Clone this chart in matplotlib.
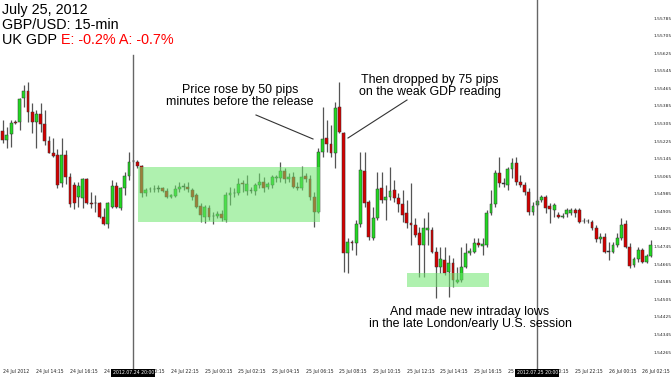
import matplotlib
matplotlib.use("Agg")
import matplotlib.pyplot as plt
from matplotlib.lines import Line2D
from matplotlib.patches import Rectangle
from matplotlib.transforms import blended_transform_factory

# ---------------- data (GBP/USD 15-min, 24 Jul 12:15 -> 26 Jul 02:45) ----------------
opens = [1.55272, 1.55230, 1.55257, 1.55312, 1.55313, 1.55421, 1.55453, 1.55356, 1.55313, 1.55347,
         1.55303, 1.55227, 1.55172, 1.55162, 1.55033, 1.55162, 1.55060, 1.55025, 1.54972, 1.54965,
         1.55051, 1.54945, 1.54943, 1.54942, 1.54881, 1.54848, 1.54926, 1.55022, 1.54919, 1.55010,
         1.55066, 1.55133, 1.55128, 1.55112, 1.54987, 1.55007, 1.55007, 1.55009, 1.55010, 1.54999,
         1.54972, 1.54975, 1.55006, 1.55017, 1.55017, 1.55002, 1.54980, 1.54931, 1.54881, 1.54919,
         1.54884, 1.54884, 1.54893, 1.54866, 1.54980, 1.54987, 1.54987, 1.55036, 1.54999, 1.54999,
         1.54998, 1.55025, 1.55040, 1.55015, 1.55025, 1.55056, 1.55056, 1.55089, 1.55053, 1.55063,
         1.55017, 1.55010, 1.55066, 1.55051, 1.54972, 1.54904, 1.55177, 1.55238, 1.55212, 1.55172,
         1.55382, 1.55263, 1.54717, 1.54767, 1.54760, 1.54848, 1.55090, 1.54949, 1.54783, 1.54874,
         1.55010, 1.54957, 1.54969, 1.55002, 1.54965, 1.54939, 1.54896, 1.54851, 1.54843, 1.54805,
         1.54752, 1.54820, 1.54820, 1.54722, 1.54653, 1.54684, 1.54631, 1.54672, 1.54585, 1.54593,
         1.54653, 1.54714, 1.54722, 1.54763, 1.54748, 1.54752, 1.54899, 1.54937, 1.55078, 1.55030,
         1.55025, 1.55097, 1.55124, 1.55040, 1.55025, 1.54995, 1.54904, 1.54934, 1.54957, 1.54969,
         1.54930, 1.54912, 1.54889, 1.54878, 1.54893, 1.54899, 1.54912, 1.54912, 1.54861, 1.54861,
         1.54858, 1.54828, 1.54778, 1.54790, 1.54722, 1.54722, 1.54752, 1.54783, 1.54848, 1.54744,
         1.54661, 1.54687, 1.54730, 1.54675, 1.54702]
highs = [1.55321, 1.55291, 1.55321, 1.55319, 1.55421, 1.55480, 1.55495, 1.55397, 1.55366, 1.55397,
         1.55366, 1.55248, 1.55238, 1.55188, 1.55238, 1.55184, 1.55078, 1.55040, 1.55040, 1.55056,
         1.55056, 1.54995, 1.54980, 1.54949, 1.54919, 1.54949, 1.55048, 1.55040, 1.55017, 1.55086,
         1.55177, 1.55137, 1.55139, 1.55116, 1.55013, 1.55017, 1.55025, 1.55025, 1.55016, 1.55010,
         1.54984, 1.55025, 1.55040, 1.55033, 1.55040, 1.55010, 1.54987, 1.54942, 1.54934, 1.54934,
         1.54904, 1.54907, 1.54912, 1.54995, 1.55017, 1.55010, 1.55056, 1.55048, 1.55071, 1.55017,
         1.55033, 1.55078, 1.55063, 1.55039, 1.55071, 1.55071, 1.55131, 1.55101, 1.55078, 1.55086,
         1.55040, 1.55112, 1.55078, 1.55071, 1.54995, 1.55192, 1.55382, 1.55321, 1.55298, 1.55404,
         1.55495, 1.55268, 1.54783, 1.54775, 1.54866, 1.55177, 1.55177, 1.54957, 1.54926, 1.55086,
         1.55086, 1.55025, 1.55108, 1.55048, 1.54987, 1.55002, 1.54957, 1.55033, 1.54874, 1.54835,
         1.54874, 1.54904, 1.54835, 1.54744, 1.54744, 1.54744, 1.54707, 1.54692, 1.54653, 1.54744,
         1.54760, 1.54737, 1.54783, 1.54783, 1.54783, 1.54912, 1.55002, 1.55094, 1.55154, 1.55056,
         1.55108, 1.55147, 1.55151, 1.55071, 1.55040, 1.55010, 1.54949, 1.54962, 1.54980, 1.54980,
         1.54942, 1.54942, 1.54904, 1.54898, 1.54919, 1.54919, 1.54919, 1.54919, 1.54874, 1.54871,
         1.54866, 1.54843, 1.54805, 1.54805, 1.54767, 1.54767, 1.54805, 1.54874, 1.54866, 1.54760,
         1.54699, 1.54744, 1.54739, 1.54711, 1.54775]
lows = [1.55216, 1.55192, 1.55200, 1.55303, 1.55276, 1.55382, 1.55313, 1.55260, 1.55192, 1.55268,
        1.55207, 1.55169, 1.55154, 1.55010, 1.55017, 1.55030, 1.54926, 1.54915, 1.54926, 1.54919,
        1.54939, 1.54919, 1.54904, 1.54874, 1.54843, 1.54828, 1.54919, 1.54922, 1.54912, 1.54980,
        1.55048, 1.55130, 1.55101, 1.54972, 1.54977, 1.54995, 1.54995, 1.54995, 1.54993, 1.54965,
        1.54968, 1.54972, 1.54995, 1.55002, 1.54995, 1.54957, 1.54919, 1.54858, 1.54851, 1.54866,
        1.54848, 1.54875, 1.54863, 1.54858, 1.54934, 1.54972, 1.54980, 1.54995, 1.54980, 1.54987,
        1.54980, 1.55010, 1.54995, 1.55007, 1.55010, 1.55040, 1.55040, 1.55033, 1.55040, 1.55010,
        1.55002, 1.55002, 1.55040, 1.54957, 1.54835, 1.54896, 1.55154, 1.55177, 1.55154, 1.55101,
        1.55260, 1.54631, 1.54624, 1.54730, 1.54707, 1.54835, 1.54926, 1.54775, 1.54775, 1.54866,
        1.54942, 1.54866, 1.54957, 1.54949, 1.54904, 1.54857, 1.54830, 1.54752, 1.54790, 1.54608,
        1.54608, 1.54752, 1.54714, 1.54510, 1.54624, 1.54616, 1.54517, 1.54562, 1.54578, 1.54585,
        1.54646, 1.54707, 1.54714, 1.54744, 1.54707, 1.54744, 1.54889, 1.54926, 1.55017, 1.55017,
        1.55002, 1.55056, 1.55025, 1.55017, 1.54980, 1.54889, 1.54889, 1.54930, 1.54949, 1.54896,
        1.54851, 1.54881, 1.54874, 1.54873, 1.54881, 1.54889, 1.54881, 1.54851, 1.54851, 1.54852,
        1.54820, 1.54767, 1.54760, 1.54714, 1.54684, 1.54714, 1.54744, 1.54775, 1.54737, 1.54646,
        1.54653, 1.54676, 1.54670, 1.54670, 1.54698]
closes = [1.55230, 1.55253, 1.55306, 1.55307, 1.55415, 1.55453, 1.55356, 1.55313, 1.55347, 1.55303,
          1.55227, 1.55172, 1.55159, 1.55025, 1.55162, 1.55060, 1.54939, 1.54942, 1.55022, 1.55051,
          1.54942, 1.54939, 1.54941, 1.54881, 1.54848, 1.54942, 1.55022, 1.54926, 1.55010, 1.55066,
          1.55128, 1.55133, 1.55113, 1.54987, 1.55002, 1.55007, 1.55007, 1.55009, 1.54999, 1.54972,
          1.54980, 1.55006, 1.55017, 1.55017, 1.55006, 1.54972, 1.54926, 1.54889, 1.54926, 1.54881,
          1.54884, 1.54893, 1.54874, 1.54980, 1.54987, 1.54987, 1.55030, 1.55028, 1.55030, 1.54999,
          1.55025, 1.55040, 1.55013, 1.55030, 1.55060, 1.55063, 1.55089, 1.55053, 1.55063, 1.55017,
          1.55010, 1.55063, 1.55051, 1.54972, 1.54904, 1.55177, 1.55235, 1.55212, 1.55172, 1.55377,
          1.55268, 1.54717, 1.54767, 1.54760, 1.54848, 1.55094, 1.54942, 1.54790, 1.54874, 1.55006,
          1.54957, 1.54972, 1.54999, 1.54965, 1.54939, 1.54889, 1.54851, 1.54843, 1.54798, 1.54752,
          1.54828, 1.54828, 1.54722, 1.54653, 1.54687, 1.54624, 1.54672, 1.54593, 1.54593, 1.54653,
          1.54717, 1.54725, 1.54763, 1.54752, 1.54757, 1.54899, 1.54937, 1.55078, 1.55033, 1.55030,
          1.55097, 1.55124, 1.55040, 1.55025, 1.54995, 1.54904, 1.54930, 1.54952, 1.54969, 1.54919,
          1.54915, 1.54934, 1.54881, 1.54884, 1.54912, 1.54912, 1.54896, 1.54858, 1.54861, 1.54861,
          1.54828, 1.54778, 1.54790, 1.54722, 1.54722, 1.54752, 1.54783, 1.54843, 1.54744, 1.54657,
          1.54687, 1.54730, 1.54675, 1.54702, 1.54752]

x_tick_index = [0, 8, 16, 24, 32, 40, 48, 56, 64, 72, 80, 88, 96, 104, 112, 120, 128, 136, 144, 152]
x_tick_labels = ["24 Jul 2012", "24 Jul 14:15", "24 Jul 16:15", "24 Jul 18:15", "24 Jul 20:15",
                 "24 Jul 22:15", "25 Jul 00:15", "25 Jul 02:15", "25 Jul 04:15", "25 Jul 06:15",
                 "25 Jul 08:15", "25 Jul 10:15", "25 Jul 12:15", "25 Jul 14:15", "25 Jul 16:15",
                 "25 Jul 18:15", "25 Jul 20:15", "25 Jul 22:15", "26 Jul 00:15", "26 Jul 02:15"]
y_tick_values = [1.55785, 1.55705, 1.55625, 1.55545, 1.55465, 1.55385, 1.55305, 1.55225, 1.55145,
                 1.55065, 1.54985, 1.54905, 1.54825, 1.54745, 1.54665, 1.54585, 1.54505, 1.54425,
                 1.54345, 1.54265]
day_break_index = [31, 127]
day_break_labels = ["2012.07.24 20:00", "2012.07.25 20:00"]

# ---------------- figure ----------------
W, H = 672, 381
fig = plt.figure(figsize=(W / 100, H / 100), dpi=100)
fig.patch.set_facecolor("white")
ax = fig.add_axes([0, 15 / H, 653 / W, 366 / H])
ax.set_facecolor("white")
for s in ax.spines.values():
    s.set_visible(False)

n = len(opens)
idx = list(range(n))
GREEN = "#22d822"
RED = "#d40000"
min_h = 0.000022

body_bottom, body_height, body_color = [], [], []
for o, c in zip(opens, closes):
    body_bottom.append(min(o, c))
    body_height.append(max(abs(c - o), min_h))
    body_color.append(GREEN if c > o else (RED if c < o else "#333333"))

ax.vlines(idx, lows, highs, color="#555555", linewidth=0.9, zorder=2)
ax.bar(idx, body_height, bottom=body_bottom, width=0.68, color=body_color,
       edgecolor="#333333", linewidth=0.35, zorder=3)

# highlight boxes
ax.add_patch(Rectangle((32.15, 1.548582), 75.4 - 32.15, 1.551057 - 1.548582,
                       facecolor="#6ee66e", alpha=0.55, edgecolor="none", zorder=4))
ax.add_patch(Rectangle((96.15, 1.545624), 115.6 - 96.15, 1.546261 - 1.545624,
                       facecolor="#6ee66e", alpha=0.55, edgecolor="none", zorder=4))

# day separators
ax.axvline(day_break_index[0], ymin=-0.012, ymax=1 - 55 / 366, color="#666666",
           linewidth=1.0, zorder=5, clip_on=False)
ax.axvline(day_break_index[1], ymin=-0.012, ymax=1.0, color="#666666",
           linewidth=1.0, zorder=5, clip_on=False)

ax.set_xlim(-0.64, 154.5)
ax.set_ylim(1.542016, 1.558669)

ax.set_xticks(x_tick_index)
ax.set_xticklabels(x_tick_labels, fontsize=3.3, ha="left", color="#222222")
ax.tick_params(axis="x", length=0, pad=2.0)
ax.yaxis.tick_right()
ax.set_yticks(y_tick_values)
ax.set_yticklabels([f"{v:.5f}" for v in y_tick_values], fontsize=3.2, color="#222222")
ax.tick_params(axis="y", length=0, pad=0.5)

trans = blended_transform_factory(ax.transData, ax.transAxes)
for bi, bl in zip(day_break_index, day_break_labels):
    ax.text(bi, -0.019, bl, transform=trans, ha="center", va="center", fontsize=3.3,
            color="white", zorder=10, clip_on=False,
            bbox=dict(boxstyle="square,pad=0.25", facecolor="black", edgecolor="none"))

# ---------------- texts ----------------
def fx(x):
    return x / W

def fy(y):
    return 1 - y / H

FONT = "Liberation Sans"
FS = 10.4
fig.text(fx(2), fy(14), "July 25, 2012", fontsize=FS, family=FONT, va="baseline")
fig.text(fx(2), fy(29), "GBP/USD: 15-min", fontsize=FS, family=FONT, va="baseline")
t = fig.text(fx(2), fy(43.5), "UK GDP ", fontsize=FS, family=FONT, va="baseline")
fig.canvas.draw()
bb = t.get_window_extent(renderer=fig.canvas.get_renderer())
fig.text(bb.x1 / W, fy(43.5), "E: -0.2% A: -0.7%", fontsize=FS, family=FONT,
         va="baseline", color="#ff0000")

fig.text(fx(240), fy(96), "Price rose by 50 pips\nminutes before the release", fontsize=8.9,
         family=FONT, ha="center", va="center", linespacing=1.05)
fig.text(fx(430), fy(86), "Then dropped by 75 pips\non the weak GDP reading", fontsize=8.9,
         family=FONT, ha="center", va="center", linespacing=1.05)
fig.text(fx(470), fy(318), "And made new intraday lows\nin the late London/early U.S. session",
         fontsize=8.9, family=FONT, ha="center", va="center", linespacing=1.05)

fig.add_artist(Line2D([fx(256), fx(313)], [fy(115), fy(139)], transform=fig.transFigure,
                      color="#333333", linewidth=0.8))
fig.add_artist(Line2D([fx(407), fx(348)], [fy(100), fy(138)], transform=fig.transFigure,
                      color="#333333", linewidth=0.8))

fig.savefig("out.png", dpi=100, facecolor="white")
